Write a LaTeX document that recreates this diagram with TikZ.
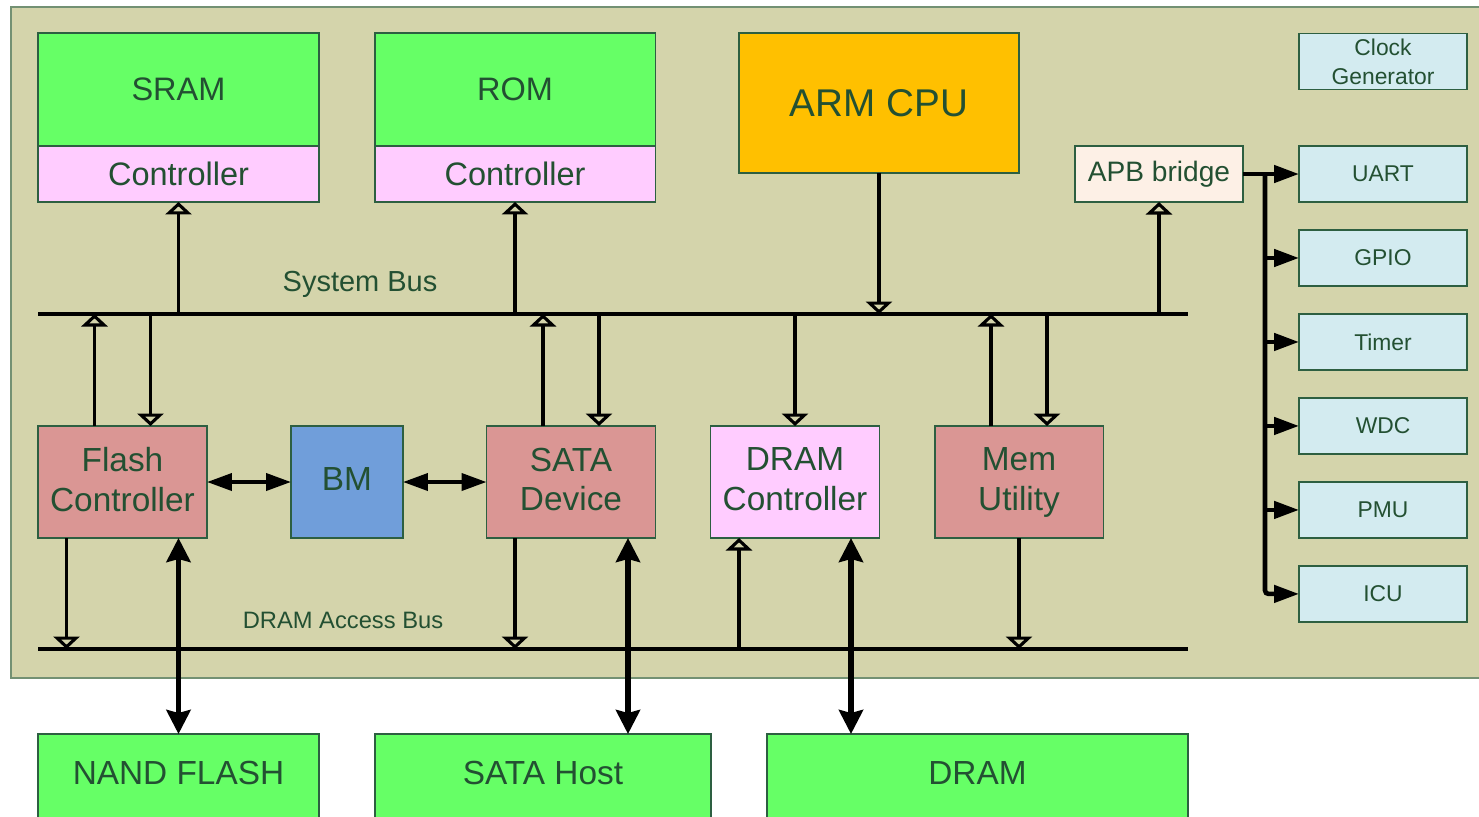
\documentclass[tikz,border=0pt]{standalone}
\usepackage{fontspec}
\setmainfont{Liberation Sans}
\usetikzlibrary{arrows.meta,positioning}
\definecolor{panelbg}{RGB}{212,212,171}
\definecolor{paneledge}{RGB}{115,145,115}
\definecolor{memgreen}{RGB}{102,255,102}
\definecolor{ctlpink}{RGB}{255,204,255}
\definecolor{cpuorange}{RGB}{255,192,0}
\definecolor{periblue}{RGB}{211,235,240}
\definecolor{blkred}{RGB}{218,150,148}
\definecolor{bmblue}{RGB}{112,158,218}
\definecolor{apbcream}{RGB}{253,240,230}
\definecolor{edgegreen}{RGB}{45,95,65}
\definecolor{textgreen}{RGB}{35,80,50}

\tikzset{
  blk/.style={rectangle, draw=edgegreen, line width=1.1pt, text=textgreen,
    align=center, inner sep=0pt, outer sep=0pt},
  topblk/.style={blk, minimum width=5.62cm, font=\fontsize{18.5}{23}\selectfont},
  midblk/.style={blk, minimum width=3.38cm, minimum height=2.24cm, text depth=3pt,
    font=\fontsize{19}{22.7}\selectfont},
  periblk/.style={blk, fill=periblue, minimum width=3.36cm, minimum height=1.12cm,
    font=\fontsize{13}{16.4}\selectfont},
  extblk/.style={blk, fill=memgreen, minimum height=1.92cm, text depth=0.36cm,
    font=\fontsize{19}{23}\selectfont},
  busline/.style={line width=2.3pt},
  opentip/.style={line width=1.8pt, -{Triangle[open, width=0.52cm, length=0.25cm]}},
  wide/.style={line width=3.4pt, {Stealth[width=0.48cm, length=0.48cm, inset=0.06cm]}-{Stealth[width=0.48cm, length=0.48cm, inset=0.06cm]}},
  dbl/.style={line width=2.2pt, {Triangle[width=0.34cm, length=0.5cm]}-{Triangle[width=0.34cm, length=0.5cm]}},
  fan/.style={line width=2.6pt, -{Triangle[width=0.34cm, length=0.5cm]}}
}

\begin{document}
\begin{tikzpicture}[x=0.02cm, y=-0.02cm, text=textgreen]
\useasboundingbox (0,0) rectangle (1479,816);
\fill[panelbg, draw=paneledge, line width=0.8pt] (11,7) rectangle (1500,678);

% memories and cpu
\node[topblk, fill=memgreen, minimum height=2.26cm] (sram) at (178.5,89.5) {SRAM};
\node[topblk, fill=ctlpink, minimum height=1.12cm, below=0pt of sram] (sramctl) {Controller};
\node[topblk, fill=memgreen, minimum height=2.26cm] (rom) at (515,89.5) {ROM};
\node[topblk, fill=ctlpink, minimum height=1.12cm, below=0pt of rom] (romctl) {Controller};
\node[blk, fill=cpuorange, minimum width=5.6cm, minimum height=2.8cm,
  font=\fontsize{22}{26}\selectfont] (cpu) at (879,103) {ARM CPU};

% apb side
\node[blk, fill=apbcream, minimum width=3.36cm, minimum height=1.12cm,
  font=\fontsize{16}{19}\selectfont] (apb) at (1159,174) {APB bridge};
\node[periblk] (clk) at (1383,61.5) {Clock\\Generator};
\node[periblk] (uart) at (1383,174) {UART};
\node[periblk, below=0.56cm of uart] (gpio) {GPIO};
\node[periblk, below=0.56cm of gpio] (timer) {Timer};
\node[periblk, below=0.56cm of timer] (wdc) {WDC};
\node[periblk, below=0.56cm of wdc] (pmu) {PMU};
\node[periblk, below=0.56cm of pmu] (icu) {ICU};

% buses
\coordinate (sysL) at (38,314);
\coordinate (sysR) at (1188,314);
\coordinate (dabL) at (38,649);
\coordinate (dabR) at (1188,649);
\draw[busline] (sysL) -- (sysR);
\draw[busline] (dabL) -- (dabR);
\node[font=\fontsize{16.5}{20}\selectfont] (sysbus) at (360,284) {System Bus};
\node[font=\fontsize{13.5}{16}\selectfont] (dabus) at (343,620) {DRAM Access Bus};

% middle row
\node[midblk, fill=blkred] (flash) at (122.5,482) {Flash\\Controller};
\node[midblk, fill=bmblue, minimum width=2.24cm] (bm) at (347,482) {BM};
\node[midblk, fill=blkred] (sata) at (571,482) {SATA\\Device};
\node[midblk, fill=ctlpink] (dramctl) at (795,482) {DRAM\\Controller};
\node[midblk, fill=blkred] (mem) at (1019,482) {Mem\\Utility};

% outside chips
\node[extblk, minimum width=5.62cm, anchor=north] (nand) at (178.5,734) {NAND FLASH};
\node[extblk, minimum width=6.72cm, anchor=north] (host) at (543,734) {SATA Host};
\node[extblk, minimum width=8.42cm, anchor=north] (dram) at (977.5,734) {DRAM};

% system bus links
\draw[opentip] (sramctl.south |- sysL) -- (sramctl.south);
\draw[opentip] (romctl.south |- sysL) -- (romctl.south);
\draw[opentip] (cpu.south) -- (cpu.south |- sysL);
\draw[opentip] (apb.south |- sysL) -- (apb.south);
\draw[opentip] ([xshift=-0.56cm]flash.north) -- ([xshift=-0.56cm]flash.north |- sysL);
\draw[opentip] ([xshift=0.56cm]flash.north |- sysL) -- ([xshift=0.56cm]flash.north);
\draw[opentip] ([xshift=-0.56cm]sata.north) -- ([xshift=-0.56cm]sata.north |- sysL);
\draw[opentip] ([xshift=0.56cm]sata.north |- sysL) -- ([xshift=0.56cm]sata.north);
\draw[opentip] (dramctl.north |- sysL) -- (dramctl.north);
\draw[opentip] ([xshift=-0.56cm]mem.north) -- ([xshift=-0.56cm]mem.north |- sysL);
\draw[opentip] ([xshift=0.56cm]mem.north |- sysL) -- ([xshift=0.56cm]mem.north);

% dram access bus links
\draw[opentip] ([xshift=-1.12cm]flash.south) -- ([xshift=-1.12cm]flash.south |- dabL);
\draw[opentip] ([xshift=-1.12cm]sata.south) -- ([xshift=-1.12cm]sata.south |- dabL);
\draw[opentip] ([xshift=-1.12cm]dramctl.south |- dabL) -- ([xshift=-1.12cm]dramctl.south);
\draw[opentip] (mem.south) -- (mem.south |- dabL);

% buffer manager
\draw[dbl] (flash.east) -- (bm.west);
\draw[dbl] (bm.east) -- (sata.west);

% external interfaces
\draw[wide] (nand.north |- flash.south) -- (nand.north);
\draw[wide] ([xshift=1.14cm]sata.south) -- ([xshift=1.14cm]sata.south |- host.north);
\draw[wide] ([xshift=1.12cm]dramctl.south) -- ([xshift=1.12cm]dramctl.south |- dram.north);

% apb fan-out
\coordinate (tap) at ([xshift=0.44cm]apb.east);
\draw[fan] (apb.east) -- (uart.west);
\draw[fan, rounded corners=2pt] (tap) |- (icu.west);
\foreach \p in {gpio,timer,wdc,pmu}
  \draw[fan] (tap |- \p.west) -- (\p.west);
\end{tikzpicture}
\end{document}
